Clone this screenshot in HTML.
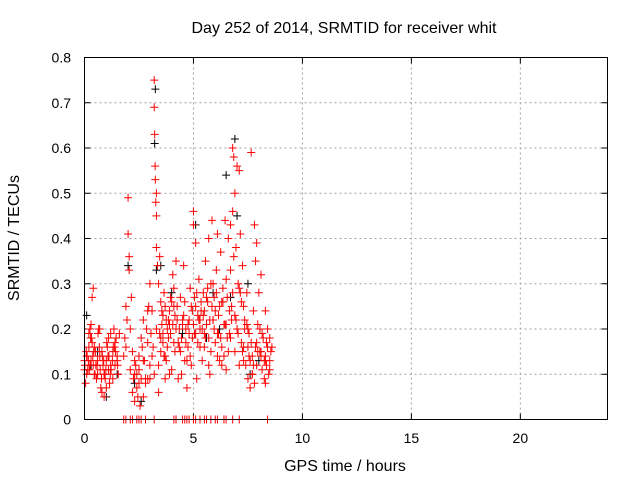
<!DOCTYPE html>
<html><head><meta charset="utf-8"><style>
body{margin:0;background:#fff}
svg text{font-family:"Liberation Sans",sans-serif;font-size:14px;fill:#000}
svg text.big{font-size:16px}
</style></head><body>
<svg id="chart" width="640" height="480" xmlns="http://www.w3.org/2000/svg">
<rect width="640" height="480" fill="#fff"/>
<text class="big" x="344" y="33" text-anchor="middle">Day 252 of 2014, SRMTID for receiver whit</text>
<text class="big" x="345" y="471" text-anchor="middle">GPS time / hours</text>
<text class="big" transform="translate(19,238) rotate(-90)" text-anchor="middle">SRMTID / TECUs</text>
<g id="grid"></g>
<g id="ticks"></g>
<g id="black"></g>
<g id="red"></g>
<rect x="84.5" y="57.5" width="523" height="362" fill="none" stroke="#000"/>
</svg>
<script>
const xTicks=[0,5,10,15,20];
const yTicks=[0,0.1,0.2,0.3,0.4,0.5,0.6,0.7,0.8];
const yTickLabels=["0","0.1","0.2","0.3","0.4","0.5","0.6","0.7","0.8"];
const redX=[0.0,0.05,0.1,0.15,0.2,0.25,0.3,0.35,0.4,0.45,
0.0,0.1,0.2,0.3,0.4,0.5,0.55,0.6,0.65,0.7,
0.75,0.8,0.85,0.9,0.95,1.0,1.05,1.1,1.15,1.2,
0.7,0.8,0.9,1.0,1.1,1.2,1.3,1.35,1.4,1.45,
1.5,1.55,1.6,1.3,1.4,1.5,0.25,0.35,0.45,0.6,
1.8,1.85,1.9,1.95,2.0,2.0,2.05,2.05,2.1,2.15,
2.2,2.25,2.3,2.35,2.4,2.45,2.5,2.55,2.6,2.65,
2.7,2.75,2.8,2.85,2.9,2.95,3.0,3.05,3.1,3.15,
3.2,3.2,3.22,3.24,3.25,3.27,3.3,3.3,3.3,3.35,
3.4,3.45,3.5,3.55,3.6,3.65,3.7,3.75,3.8,3.85,
3.9,3.95,4.0,4.05,4.1,4.15,4.2,4.25,4.3,4.35,
4.4,4.45,4.5,4.55,4.6,4.65,4.7,4.75,4.8,4.85,
4.9,4.95,5.0,5.0,5.05,5.1,5.15,5.2,5.25,5.3,
5.35,5.4,5.45,5.5,5.55,5.6,5.65,5.7,5.75,5.8,
5.85,5.9,5.95,6.0,6.05,6.1,6.15,6.2,6.25,6.3,
6.35,6.4,6.45,6.5,6.55,6.6,6.65,6.7,6.75,6.8,
6.8,6.85,6.9,6.95,7.0,7.05,7.1,7.15,7.2,7.25,
7.3,7.35,7.4,7.45,7.5,7.55,7.6,7.65,7.7,7.75,
7.8,7.85,7.9,7.95,8.0,8.05,8.1,8.15,8.2,8.25,
8.3,8.35,8.4,8.45,8.5,8.55,8.6,8.3,8.4,8.5,
3.4,3.6,3.8,4.0,4.2,4.4,4.6,4.8,5.0,5.2,
5.4,5.6,5.8,6.0,6.2,6.4,6.6,6.8,7.0,7.2,
2.3,2.5,2.7,2.9,3.1,3.3,3.5,3.7,3.9,4.1,
5.1,5.3,5.5,5.7,5.9,6.1,6.3,6.5,6.7,6.9,
7.1,7.3,7.5,7.7,7.9,8.1,8.3,8.5,7.6,7.8,
1.9,2.1,2.3,2.5,2.7,2.9,3.0,3.2,3.4,3.6,
0.02,0.12,0.22,0.32,0.42,0.52,0.62,0.72,0.82,0.92,
1.02,1.12,1.22,1.32,1.42,1.52,0.08,0.18,0.28,0.38,
0.48,0.58,0.68,0.78,0.88,0.98,1.08,1.18,1.28,1.38,
3.45,3.55,3.65,3.75,3.85,3.95,4.05,4.15,4.25,4.35,
4.45,4.55,4.65,4.75,4.85,4.95,5.05,5.15,5.25,5.35,
5.45,5.55,5.65,5.75,5.85,5.95,6.05,6.15,6.25,6.35,
6.45,6.55,6.65,6.75,6.85,6.95,7.05,7.15,7.25,7.35,
7.45,7.55,7.65,7.75,7.85,7.95,8.05,8.15,8.25,8.35,
3.5,3.7,3.9,4.1,4.3,4.5,4.7,4.9,5.1,5.3,
5.5,5.7,5.9,6.1,6.3,6.5,6.7,6.9,7.1,7.3,
7.5,7.7,7.9,8.1,8.3,2.2,2.4,2.6,2.8,3.0];
const redY=[0.13,0.08,0.14,0.11,0.19,0.12,0.21,0.27,0.29,0.16,
0.11,0.1,0.16,0.13,0.12,0.15,0.09,0.1,0.2,0.14,
0.07,0.06,0.12,0.05,0.09,0.13,0.16,0.11,0.08,0.12,
0.2,0.15,0.1,0.07,0.18,0.19,0.15,0.2,0.12,0.18,
0.14,0.1,0.19,0.09,0.17,0.13,0.2,0.17,0.1,0.13,
0.14,0.18,0.25,0.22,0.49,0.41,0.36,0.33,0.11,0.27,
0.06,0.09,0.04,0.12,0.07,0.05,0.14,0.03,0.18,0.16,
0.22,0.13,0.09,0.2,0.24,0.25,0.3,0.19,0.24,0.16,
0.75,0.69,0.63,0.56,0.53,0.48,0.45,0.38,0.5,0.34,
0.3,0.36,0.26,0.21,0.17,0.28,0.25,0.13,0.2,0.22,
0.24,0.19,0.26,0.32,0.17,0.23,0.35,0.22,0.09,0.16,
0.27,0.1,0.21,0.34,0.13,0.2,0.07,0.16,0.22,0.29,
0.12,0.18,0.43,0.46,0.27,0.39,0.09,0.23,0.31,0.16,
0.24,0.13,0.28,0.19,0.35,0.21,0.26,0.4,0.1,0.3,
0.44,0.22,0.27,0.17,0.33,0.41,0.19,0.25,0.37,0.12,
0.29,0.14,0.44,0.31,0.18,0.4,0.24,0.43,0.22,0.6,
0.46,0.58,0.5,0.38,0.56,0.3,0.55,0.41,0.26,0.34,
0.16,0.22,0.12,0.28,0.09,0.19,0.13,0.59,0.1,0.24,
0.43,0.35,0.39,0.15,0.28,0.2,0.32,0.11,0.18,0.09,
0.14,0.12,0.16,0.1,0.13,0.15,0.16,0.08,0.2,0.11,
0.12,0.23,0.16,0.11,0.2,0.15,0.26,0.19,0.21,0.17,
0.2,0.27,0.15,0.24,0.13,0.21,0.15,0.28,0.2,0.17,
0.1,0.08,0.13,0.09,0.14,0.2,0.15,0.09,0.1,0.29,
0.25,0.2,0.16,0.12,0.3,0.14,0.26,0.11,0.33,0.15,
0.12,0.25,0.16,0.1,0.17,0.14,0.24,0.18,0.07,0.08,
0.16,0.2,0.13,0.11,0.05,0.17,0.09,0.1,0.06,0.19,
0.12,0.14,0.11,0.18,0.15,0.12,0.19,0.11,0.14,0.1,
0.17,0.14,0.11,0.16,0.15,0.12,0.15,0.13,0.18,0.14,
0.1,0.12,0.16,0.09,0.13,0.11,0.14,0.1,0.13,0.16,
0.19,0.24,0.14,0.22,0.18,0.27,0.21,0.15,0.25,0.2,
0.18,0.23,0.17,0.21,0.14,0.24,0.19,0.28,0.22,0.26,
0.23,0.18,0.29,0.22,0.25,0.2,0.28,0.23,0.18,0.26,
0.21,0.27,0.19,0.25,0.36,0.22,0.19,0.28,0.15,0.2,
0.21,0.14,0.17,0.12,0.16,0.21,0.15,0.19,0.13,0.17,
0.18,0.14,0.21,0.25,0.17,0.22,0.13,0.25,0.19,0.22,
0.24,0.18,0.22,0.19,0.16,0.21,0.18,0.23,0.29,0.13,
0.2,0.14,0.12,0.15,0.13,0.15,0.1,0.09,0.08,0.12];
const zeroX=[1.8,1.9,2.1,2.2,2.4,2.5,2.6,2.8,3.2,4.1,4.2,4.5,4.6,4.7,4.8,5.0,5.1,5.3,5.5,5.6,5.8,6.0,6.1,6.4,6.5,6.8,7.1,8.4];
const blackX=[3.25,3.22,6.9,6.5,3.3,0.1,0.3,1.0,2.0,2.6,4.5,5.1,5.9,6.2,7.0,7.5,8.0,7.6,4.0,3.5,1.5,0.6,2.3,5.6,6.7];
const blackY=[0.73,0.61,0.62,0.54,0.33,0.23,0.12,0.05,0.34,0.04,0.19,0.43,0.28,0.2,0.45,0.3,0.13,0.1,0.28,0.34,0.1,0.15,0.08,0.18,0.27];

const NS="http://www.w3.org/2000/svg";
const X0=84.5,X1=607.5,Y0=419.5,Y1=57.5;
function sx(v){return X0+(v/24)*(X1-X0);}
function sy(v){return Y0-(v/0.8)*(Y0-Y1);}
function mk(tag,attrs,parent){const e=document.createElementNS(NS,tag);for(const k in attrs)e.setAttribute(k,attrs[k]);parent.appendChild(e);return e;}
const grid=document.getElementById('grid'),ticks=document.getElementById('ticks');
xTicks.forEach(t=>{
  const x=sx(t);
  if(t>0){const g=mk('line',{x1:x,x2:x,y1:Y1,y2:Y0,stroke:'#a0a0a0','stroke-dasharray':'2,3'},grid);
  
  }
  mk('line',{x1:x,x2:x,y1:Y0,y2:Y0-6,stroke:'#000'},ticks);
  mk('line',{x1:x,x2:x,y1:Y1,y2:Y1+6,stroke:'#000'},ticks);
  const l=mk('text',{x:x,y:443,'text-anchor':'middle'},ticks);l.textContent=t;
  
  
});
yTicks.forEach((t,i)=>{
  const y=sy(t);
  if(t>0&&t<0.8){const g=mk('line',{x1:X0,x2:X1,y1:y,y2:y,stroke:'#a0a0a0','stroke-dasharray':'2,3'},grid);
  
  }
  mk('line',{x1:X0,x2:X0+6,y1:y,y2:y,stroke:'#000'},ticks);
  mk('line',{x1:X1,x2:X1-6,y1:y,y2:y,stroke:'#000'},ticks);
  const l=mk('text',{x:71,y:y+5,'text-anchor':'end'},ticks);l.textContent=yTickLabels[i];
  
  
});
function plus(g,x,y,c){
  const p=mk('path',{d:`M${x-4} ${y}H${x+4}M${x} ${y-4}V${y+4}`,stroke:c,'stroke-width':1,fill:'none'},g);
  
  
}
const bg=document.getElementById('black'),rg=document.getElementById('red');
blackX.forEach((v,i)=>plus(bg,sx(v),sy(blackY[i]),'#000'));
redX.forEach((v,i)=>plus(rg,sx(v),sy(redY[i]),'#f00'));
zeroX.forEach(v=>plus(rg,sx(v),sy(0),'#f00'));
</script>
</body></html>
